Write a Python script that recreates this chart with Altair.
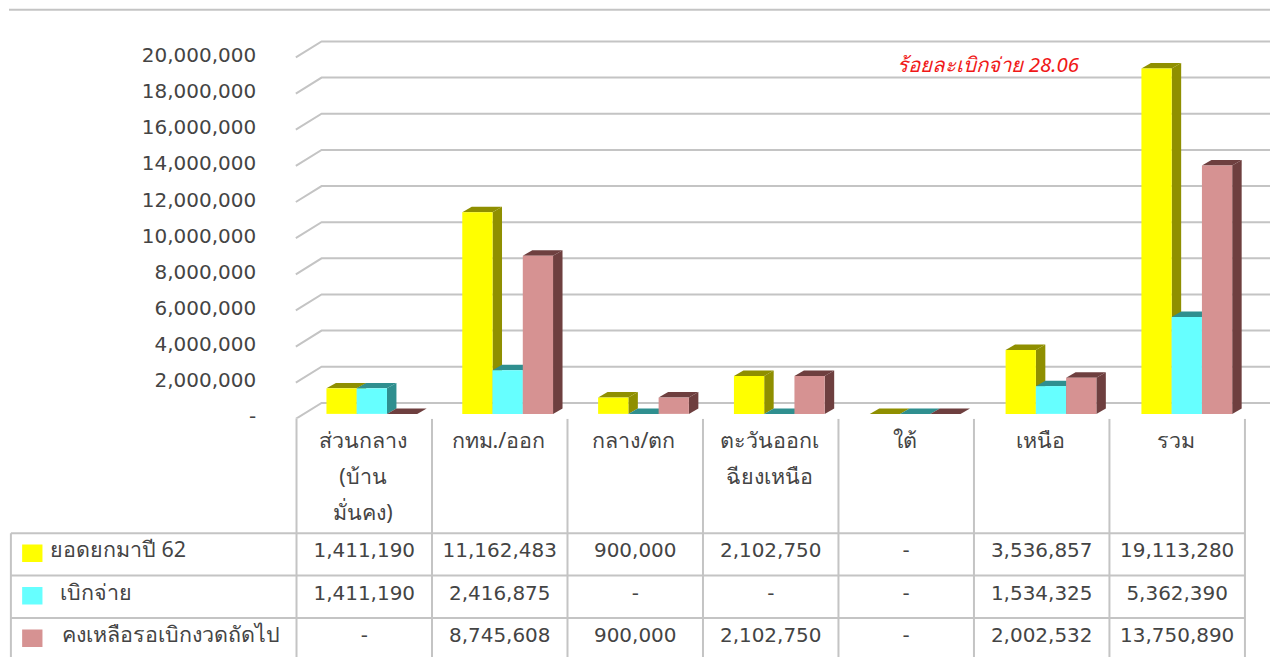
import altair as alt
import pandas as pd

categories = ["ส่วนกลาง", "กทม./ออก", "กลาง/ตก", "ตะวันออกเ", "ใต้", "เหนือ", "รวม"]
header_lines = [
    ["ส่วนกลาง", "(บ้าน", "มั่นคง)"],
    ["กทม./ออก"],
    ["กลาง/ตก"],
    ["ตะวันออกเ", "ฉียงเหนือ"],
    ["ใต้"],
    ["เหนือ"],
    ["รวม"],
]
series_names = ["ยอดยกมาปี 62", "เบิกจ่าย", "คงเหลือรอเบิกงวดถัดไป"]
carried = [1411190, 11162483, 900000, 2102750, 0, 3536857, 19113280]
paid = [1411190, 2416875, 0, 0, 0, 1534325, 5362390]
remain = [0, 8745608, 900000, 2102750, 0, 2002532, 13750890]
series_values = [carried, paid, remain]
ticks = [0, 2000000, 4000000, 6000000, 8000000, 10000000, 12000000, 14000000, 16000000, 18000000, 20000000]
front_colors = ["#ffff00", "#66ffff", "#d69292"]
shade_colors = ["#8f8f00", "#2f8f8f", "#6e3f3f"]
annotation = "ร้อยละเบิกจ่าย 28.06"

FONT = "DejaVu Sans"
TEXT = "#444444"
GRID = "#c4c4c4"

# scale layout, in category units across and value units up
X_DOMAIN = [-2.122, 7.185]
Y_DOMAIN = [-276000, 22376000]
T_DOMAIN = [-2.694, 2.93]
x_scale = alt.Scale(domain=X_DOMAIN, nice=False, zero=False)
y_scale = alt.Scale(domain=Y_DOMAIN, nice=False, zero=False)
t_scale = alt.Scale(domain=T_DOMAIN, nice=False, zero=False, reverse=True)
y_axis = alt.Axis(
    values=ticks,
    labelExpr="datum.value == 0 ? '-\u00a0\u00a0\u00a0' : format(datum.value, ',')",
    domain=False, ticks=False, grid=False, title=None, offset=-247,
    labelPadding=0, labelFont=FONT, labelFontSize=20, labelColor=TEXT, labelOffset=3,
)
X = lambda f="x": alt.X(f"{f}:Q", scale=x_scale, axis=None)
Y = lambda f="y": alt.Y(f"{f}:Q", scale=y_scale, axis=y_axis)
T = lambda f="y": alt.Y(f"{f}:Q", scale=t_scale, axis=None)

GROUP_START, GROUP_PITCH, BAR_W = 0.221, 1.0025, 0.2233
DEPTH_X, DEPTH_Y = 0.07, 304000
BACK_X, BACK_DY, FRONT_DY = 0.185, 608000, -276000

# back wall
grid_rows = []
for t in ticks:
    grid_rows += [
        {"t": t, "x": -0.005, "y": t + FRONT_DY},
        {"t": t, "x": BACK_X, "y": t + BACK_DY},
        {"t": t, "x": X_DOMAIN[1], "y": t + BACK_DY},
    ]
grid = alt.Chart(pd.DataFrame(grid_rows)).mark_line(color=GRID, strokeWidth=2, clip=True).encode(
    x=X(), y=Y(), detail="t:N",
)
top_line = alt.Chart(pd.DataFrame({"y": [22360000], "x": [X_DOMAIN[0]], "x2": [X_DOMAIN[1]]})).mark_rule(
    color=GRID, strokeWidth=2
).encode(x=X(), x2="x2:Q", y=Y())

layers = [grid, top_line]
for s, values in enumerate(series_values):
    front, side, top = [], [], []
    for c, v in enumerate(values):
        l = c * GROUP_PITCH + GROUP_START + s * BAR_W
        r = l + BAR_W
        front.append({"x": l, "x2": r, "y": 0, "y2": v})
        side += [
            {"c": c, "x": r, "y": v, "y2": 0},
            {"c": c, "x": r + DEPTH_X, "y": v + DEPTH_Y, "y2": DEPTH_Y},
        ]
        top += [
            {"c": c, "x": l, "y": v, "y2": v},
            {"c": c, "x": l + DEPTH_X, "y": v + DEPTH_Y, "y2": v},
            {"c": c, "x": r, "y": v + DEPTH_Y, "y2": v},
            {"c": c, "x": r + DEPTH_X, "y": v + DEPTH_Y, "y2": v + DEPTH_Y},
        ]
    layers.append(alt.Chart(pd.DataFrame(side)).mark_area(color=shade_colors[s], opacity=1).encode(
        x=X(), y=Y(), y2="y2:Q", detail="c:N"))
    layers.append(alt.Chart(pd.DataFrame(top)).mark_area(color=shade_colors[s], opacity=1).encode(
        x=X(), y=Y(), y2="y2:Q", detail="c:N"))
    layers.append(alt.Chart(pd.DataFrame(front)).mark_rect(color=front_colors[s]).encode(
        x=X(), x2="x2:Q", y=Y(), y2="y2:Q"))

note = alt.Chart(pd.DataFrame({"x": [5.105], "y": [19250000], "t": [annotation]})).mark_text(
    color="#f01818", fontStyle="italic", fontSize=20.5, font="Noto Sans", align="center", baseline="middle"
).encode(x=X(), y=Y(), text="t:N")
layers.append(note)
chart_top = alt.layer(*layers).properties(width=1263, height=410)

# table
LEFT = -2.108
rules_v = [{"x": c, "y": T_DOMAIN[0], "y2": T_DOMAIN[1]} for c in range(8)]
rules_v.append({"x": LEFT, "y": 0, "y2": T_DOMAIN[1]})
rules_h = [{"x": LEFT, "x2": 7, "y": r} for r in range(3)]
table_v = alt.Chart(pd.DataFrame(rules_v)).mark_rule(color=GRID, strokeWidth=2, clip=True).encode(
    x=X(), y=T(), y2="y2:Q")
table_h = alt.Chart(pd.DataFrame(rules_h)).mark_rule(color=GRID, strokeWidth=2).encode(
    x=X(), x2="x2:Q", y=T())

head_rows = []
for c, lines in enumerate(header_lines):
    for i, line in enumerate(lines):
        head_rows.append({"x": c + 0.49, "y": -2.14 + 0.847 * i, "t": line})
head_text = alt.Chart(pd.DataFrame(head_rows)).mark_text(
    font="Noto Sans", fontSize=21.5, color=TEXT, align="center", baseline="middle"
).encode(x=X(), y=T(), text="t:N")

cell_rows = []
for r, values in enumerate(series_values):
    for c, v in enumerate(values):
        cell_rows.append({"x": c + 0.5, "y": r + 0.43, "t": f"{v:,}" if v else "-"})
cell_text = alt.Chart(pd.DataFrame(cell_rows)).mark_text(
    font=FONT, fontSize=20, color=TEXT, align="center", baseline="middle"
).encode(x=X(), y=T(), text="t:N")

label_x = [-1.82, -1.742, -1.728]
label_rows = [{"x": label_x[r], "y": r + 0.43, "t": n} for r, n in enumerate(series_names)]
label_text = alt.Chart(pd.DataFrame(label_rows)).mark_text(
    font="Noto Sans", fontSize=21.5, color=TEXT, align="left", baseline="middle"
).encode(x=X(), y=T(), text="t:N")

swatch_layers = []
for r in range(3):
    sw = pd.DataFrame([{"x": -2.025, "x2": -1.875, "y": r + 0.27, "y2": r + 0.68}])
    swatch_layers.append(alt.Chart(sw).mark_rect(color=front_colors[r]).encode(
        x=X(), x2="x2:Q", y=T(), y2="y2:Q"))

chart_table = alt.layer(table_v, table_h, *swatch_layers, head_text, cell_text, label_text).properties(
    width=1263, height=239
)

chart = alt.vconcat(chart_top, chart_table, spacing=0, bounds="flush").resolve_scale(
    x="independent", y="independent"
).properties(padding=0, background="white").configure_view(strokeWidth=0, stroke=None)
chart.save("out.html", embed_options={"renderer": "svg", "actions": False})
